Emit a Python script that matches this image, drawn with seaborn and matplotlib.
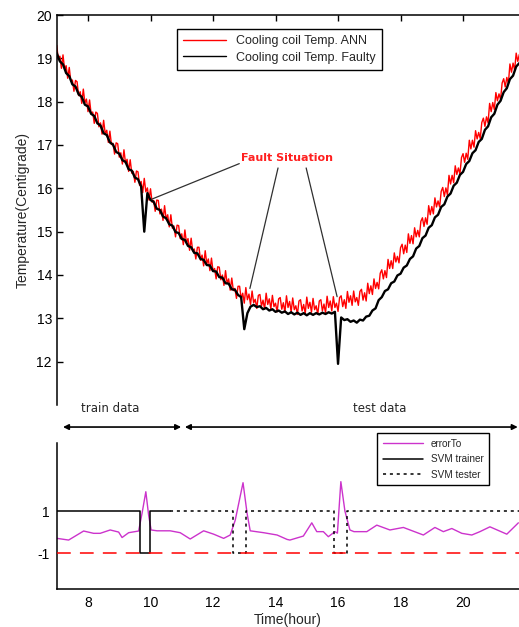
import numpy as np
import pandas as pd
import matplotlib
matplotlib.use("Agg")
import matplotlib.pyplot as plt
import seaborn as sns

# ---------------- data ----------------
# ANN estimate, sampled every 0.05 h
ann_hours = np.round(np.arange(7.0, 21.825, 0.05), 2)
temp_ann = [
    19.30, 18.97, 19.05, 18.77, 19.08, 18.75, 18.83, 18.54, 18.79, 18.47,
    18.50, 18.24, 18.49, 18.46, 18.14, 18.23, 17.96, 18.29, 17.97, 18.06,
    17.77, 18.04, 17.72, 17.76, 17.50, 17.76, 17.73, 17.42, 17.51, 17.25,
    17.57, 17.26, 17.34, 17.06, 17.32, 17.01, 17.04, 16.79, 17.05, 17.03,
    16.72, 16.82, 16.56, 16.89, 16.58, 16.67, 16.39, 16.66, 16.35, 16.39,
    16.14, 16.40, 16.38, 16.07, 16.16, 15.90, 16.23, 15.92, 16.01, 15.73,
    15.99, 15.68, 15.72, 15.47, 15.73, 15.72, 15.41, 15.52, 15.26, 15.60,
    15.29, 15.39, 15.11, 15.39, 15.08, 15.13, 14.88, 15.15, 15.14, 14.84,
    14.95, 14.70, 15.04, 14.74, 14.84, 14.57, 14.85, 14.55, 14.60, 14.37,
    14.64, 14.64, 14.34, 14.46, 14.21, 14.56, 14.26, 14.37, 14.10, 14.39,
    14.09, 14.15, 13.91, 14.19, 14.18, 13.89, 14.00, 13.76, 14.10, 13.81,
    13.91, 13.65, 13.93, 13.64, 13.69, 13.46, 13.74, 13.74, 13.45, 13.58,
    13.35, 13.71, 13.43, 13.56, 13.32, 13.63, 13.36, 13.44, 13.23, 13.53,
    13.55, 13.28, 13.42, 13.21, 13.58, 13.32, 13.45, 13.22, 13.53, 13.27,
    13.35, 13.15, 13.45, 13.48, 13.21, 13.36, 13.14, 13.52, 13.25, 13.39,
    13.15, 13.47, 13.20, 13.29, 13.09, 13.40, 13.43, 13.17, 13.32, 13.11,
    13.49, 13.23, 13.37, 13.14, 13.46, 13.20, 13.29, 13.09, 13.40, 13.43,
    13.17, 13.33, 13.12, 13.51, 13.25, 13.40, 13.17, 13.50, 13.25, 13.35,
    13.16, 13.48, 13.52, 13.27, 13.43, 13.23, 13.62, 13.37, 13.52, 13.30,
    13.63, 13.38, 13.48, 13.30, 13.62, 13.67, 13.42, 13.59, 13.40, 13.81,
    13.57, 13.75, 13.55, 13.91, 13.69, 13.83, 13.68, 14.04, 14.12, 13.91,
    14.10, 13.94, 14.36, 14.15, 14.33, 14.15, 14.51, 14.30, 14.43, 14.28,
    14.63, 14.71, 14.49, 14.69, 14.52, 14.95, 14.73, 14.91, 14.72, 15.09,
    14.88, 15.03, 14.88, 15.24, 15.32, 15.12, 15.32, 15.17, 15.60, 15.39,
    15.58, 15.41, 15.78, 15.57, 15.71, 15.57, 15.93, 16.02, 15.81, 16.01,
    15.85, 16.30, 16.10, 16.30, 16.13, 16.52, 16.32, 16.47, 16.33, 16.71,
    16.80, 16.60, 16.81, 16.67, 17.11, 16.91, 17.11, 16.95, 17.33, 17.14,
    17.29, 17.15, 17.52, 17.62, 17.43, 17.65, 17.51, 17.96, 17.77, 17.98,
    17.82, 18.21, 18.02, 18.18, 18.05, 18.43, 18.53, 18.34, 18.56, 18.42,
    18.87, 18.68, 18.89, 18.73, 19.12, 18.93, 19.09,
]

# measured (faulty) coil temperature, sampled every 0.1 h
faulty_hours = np.round(np.arange(7.0, 21.85, 0.1), 1)
temp_faulty = [
    19.12, 18.93, 18.86, 18.66, 18.59, 18.40, 18.35, 18.17, 18.11, 17.93,
    17.89, 17.72, 17.67, 17.50, 17.45, 17.27, 17.23, 17.06, 17.01, 16.84,
    16.80, 16.65, 16.61, 16.44, 16.41, 16.25, 16.21, 16.04, 15.00, 15.89,
    15.73, 15.69, 15.53, 15.50, 15.35, 15.31, 15.17, 15.14, 14.99, 14.97,
    14.83, 14.81, 14.67, 14.64, 14.51, 14.50, 14.37, 14.35, 14.23, 14.22,
    14.09, 14.08, 13.95, 13.94, 13.81, 13.80, 13.67, 13.66, 13.54, 13.49,
    12.75, 13.12, 13.27, 13.31, 13.26, 13.28, 13.21, 13.24, 13.18, 13.21,
    13.15, 13.18, 13.13, 13.16, 13.10, 13.14, 13.09, 13.13, 13.08, 13.12,
    13.07, 13.12, 13.08, 13.12, 13.09, 13.13, 13.10, 13.14, 13.11, 13.15,
    11.95, 13.02, 12.96, 12.98, 12.92, 12.95, 12.90, 12.97, 12.95, 13.04,
    13.06, 13.18, 13.23, 13.42, 13.49, 13.63, 13.67, 13.81, 13.85, 13.99,
    14.03, 14.17, 14.22, 14.37, 14.43, 14.61, 14.67, 14.85, 14.91, 15.09,
    15.15, 15.33, 15.39, 15.57, 15.63, 15.81, 15.88, 16.06, 16.13, 16.31,
    16.38, 16.56, 16.63, 16.81, 16.88, 17.07, 17.14, 17.35, 17.43, 17.64,
    17.72, 17.93, 18.02, 18.22, 18.31, 18.52, 18.60, 18.81, 18.89,
]

err_hours = [
    7.01, 7.38, 7.86, 8.18, 8.39, 8.71, 8.98, 9.09, 9.30, 9.62,
    9.73, 9.85, 9.94, 10.02, 10.21, 10.63, 10.95, 11.27, 11.70, 12.02,
    12.34, 12.55, 12.71, 12.96, 13.09, 13.19, 13.62, 14.05, 14.37, 14.46,
    14.89, 15.16, 15.32, 15.53, 15.69, 15.90, 15.98, 16.09, 16.22, 16.38,
    16.51, 16.92, 17.24, 17.66, 18.09, 18.73, 19.10, 19.37, 19.64, 19.96,
    20.28, 20.54, 20.86, 21.40, 21.77,
]
err_values = [
    -0.30, -0.38, 0.05, -0.06, -0.06, 0.10, 0.00, -0.26, -0.03, 0.05,
    0.90, 1.92, 0.80, 0.10, 0.06, 0.06, -0.03, -0.33, 0.06, -0.10,
    -0.30, -0.14, 0.56, 2.35, 0.89, 0.06, -0.03, -0.14, -0.35, -0.38,
    -0.19, 0.44, 0.02, 0.02, -0.22, 0.02, -0.05, 2.40, 1.00, 0.10,
    0.02, 0.02, 0.33, 0.10, 0.22, -0.14, 0.22, 0.02, 0.17, -0.06,
    -0.14, 0.02, 0.25, -0.10, 0.44,
]

svm_trainer_hours = [7.0, 9.65, 9.99, 10.63]
svm_trainer_state = [1, -1, 1, 1]
svm_tester_hours = [10.63, 12.64, 13.05, 15.87, 16.28, 21.8]
svm_tester_state = [1, -1, 1, -1, 1, 1]
svm_fault_level = -1

top_yticks = [12, 13, 14, 15, 16, 17, 18, 19, 20]
x_ticks = [8, 10, 12, 14, 16, 18, 20]

df_ann = pd.DataFrame({"hour": ann_hours, "temp": temp_ann})
df_flt = pd.DataFrame({"hour": faulty_hours, "temp": temp_faulty})
df_err = pd.DataFrame({"hour": err_hours, "err": err_values})
df_trn = pd.DataFrame({"hour": svm_trainer_hours, "state": svm_trainer_state})
df_tst = pd.DataFrame({"hour": svm_tester_hours, "state": svm_tester_state})

# ---------------- style ----------------
sns.set_style("white")
plt.rcParams["font.family"] = ["Liberation Sans", "DejaVu Sans"]
plt.rcParams["axes.linewidth"] = 1.1

W, H = 519, 627
fig = plt.figure(figsize=(W / 100, H / 100), dpi=100)

def px_axes(left, top, right, bottom):
    return fig.add_axes([left / W, 1 - bottom / H, (right - left) / W, (bottom - top) / H])

ax1 = px_axes(56.75, 15, 519, 405)
ax2 = px_axes(56.75, 443, 519, 589)
xlim = (7.0, 21.79)

# ---------------- upper panel ----------------
sns.lineplot(data=df_ann, x="hour", y="temp", ax=ax1, color="#ff0000", lw=1.0,
             label="Cooling coil Temp. ANN")
sns.lineplot(data=df_flt, x="hour", y="temp", ax=ax1, color="black", lw=1.7,
             label="Cooling coil Temp. Faulty")
ax1.set_xlim(*xlim)
ax1.set_ylim(11, 20)
ax1.set_yticks(top_yticks)
ax1.set_xticks(x_ticks)
ax1.set_xlabel("")
ax1.set_ylabel("Temperature(Centigrade)", fontsize=10, labelpad=5)
ax1.tick_params(axis="both", direction="in", length=4, width=1, labelsize=10,
                top=True, bottom=False, labelbottom=False, left=True, colors="black")
for s in ("right", "bottom"):
    ax1.spines[s].set_visible(False)
for s in ("left", "top"):
    ax1.spines[s].set_color("black")

leg1 = ax1.legend(loc="upper left", bbox_to_anchor=(0.26, 0.964), borderaxespad=0,
                  fontsize=9, handlelength=3.4, frameon=True, fancybox=False,
                  framealpha=1, edgecolor="black", borderpad=0.5, labelspacing=0.35)
leg1.get_frame().set_linewidth(1.0)
for line in leg1.get_lines():
    line.set_linewidth(1.0)

ax1.text(14.38, 16.71, "Fault Situation", color="#ff2020", fontsize=8,
         fontweight="bold", ha="center", va="center", family="DejaVu Sans")
for start, end in [((12.84, 16.57), (10.04, 15.75)),
                   ((14.08, 16.47), (13.18, 13.69)),
                   ((14.98, 16.47), (15.97, 13.50))]:
    ax1.annotate("", xy=end, xytext=start,
                 arrowprops=dict(arrowstyle="-", color="#303030", lw=0.9,
                                 shrinkA=0, shrinkB=0))

# ---------------- lower panel ----------------
sns.lineplot(data=df_err, x="hour", y="err", ax=ax2, color="#cc33cc", lw=1.0,
             label="errorTo")
sns.lineplot(data=df_trn, x="hour", y="state", ax=ax2, color="black", lw=1.1,
             drawstyle="steps-post", label="SVM trainer")
sns.lineplot(data=df_tst, x="hour", y="state", ax=ax2, color="black", lw=1.1,
             drawstyle="steps-post", linestyle=(0, (2, 2.5)), label="SVM tester")
ax2.axhline(svm_fault_level, color="#ff0000", lw=1.1, linestyle=(0, (9, 6)), zorder=5)
ax2.set_xlim(*xlim)
ax2.set_ylim(-2.71, 4.24)
ax2.set_yticks([1, -1])
ax2.set_yticklabels(["1", "-1"])
ax2.set_xticks(x_ticks)
ax2.set_xlabel("Time(hour)", fontsize=10, labelpad=2)
ax2.set_ylabel("")
ax2.tick_params(axis="both", direction="in", length=4, width=1, labelsize=10,
                colors="black", pad=5)
for s in ("right", "top"):
    ax2.spines[s].set_visible(False)
for s in ("left", "bottom"):
    ax2.spines[s].set_color("black")

leg2 = ax2.legend(loc="upper left", bbox_to_anchor=(0.693, 1.068), borderaxespad=0,
                  fontsize=7.2, handlelength=4.0, frameon=True, fancybox=False,
                  framealpha=1, edgecolor="black", borderpad=0.55, labelspacing=0.55)
leg2.get_frame().set_linewidth(1.0)
leg2.set_zorder(10)

# train / test span markers above the lower panel
arrow_kw = dict(arrowstyle="<|-|>", color="black", lw=1.2, mutation_scale=8,
                shrinkA=0, shrinkB=0)
ax2.annotate("", xy=(7.2, 5.0), xytext=(10.98, 5.0), arrowprops=arrow_kw,
             annotation_clip=False)
ax2.annotate("", xy=(11.10, 5.0), xytext=(21.75, 5.0), arrowprops=arrow_kw,
             annotation_clip=False)
ax2.text(8.70, 5.86, "train data", fontsize=8.5, ha="center", va="center",
         family="DejaVu Sans", clip_on=False)
ax2.text(17.34, 5.86, "test data", fontsize=8.5, ha="center", va="center",
         family="DejaVu Sans", clip_on=False)

fig.savefig("out.png", dpi=100)
